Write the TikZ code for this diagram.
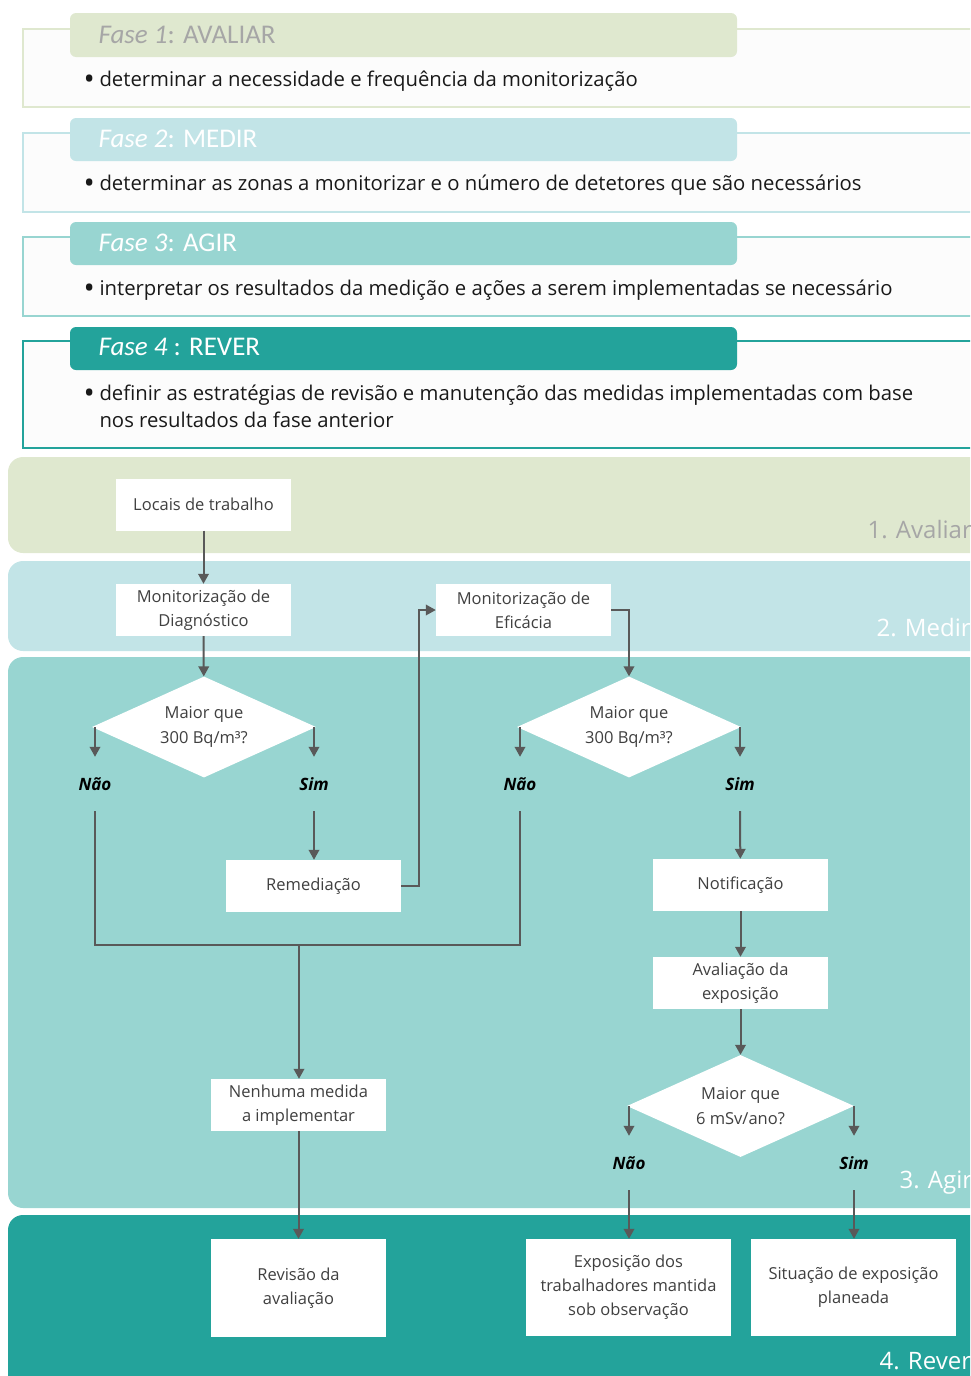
\documentclass[tikz,border=0pt]{standalone}
\usepackage{fontspec}
\setmainfont{Open Sans}
\newfontfamily\hdfont{Carlito}
\usetikzlibrary{shapes.geometric,arrows.meta,positioning}
\definecolor{avaliar}{HTML}{DFE8CF}
\definecolor{medir}{HTML}{C2E4E7}
\definecolor{agir}{HTML}{98D5D1}
\definecolor{rever}{HTML}{23A39B}
\definecolor{seta}{HTML}{595959}
\definecolor{texto}{HTML}{404040}
\definecolor{cinza}{HTML}{A6A6A6}
\newcommand{\bul}[1]{\makebox[16pt][l]{\raisebox{-3pt}{\fontsize{30}{30}\selectfont•}}#1}
\tikzset{x=1pt, y=-1pt,
  box/.style={rectangle, fill=white, minimum width=175pt, minimum height=52pt, inner sep=0pt, align=center, text=texto, font=\fontsize{16.5}{24}\selectfont},
  decision/.style={diamond, fill=white, minimum width=224pt, minimum height=101pt, inner sep=0pt, shape aspect=2.2, align=center, text=texto, font=\fontsize{16.5}{25}\selectfont},
  answer/.style={minimum height=54pt, inner sep=0pt, font=\fontsize{17}{20}\selectfont\bfseries\itshape},
  arr/.style={line width=2pt, draw=seta, -{Triangle[length=10pt,width=10.5pt]}},
  line/.style={line width=2pt, draw=seta},
  fase/.style={draw=#1, line width=1.5pt, fill=black!1},
  cabec/.style={fill=#1, rounded corners=6pt},
  titulo/.style={anchor=west, text=#1, font=\hdfont\fontsize{27}{30}\selectfont},
  item/.style={anchor=west, align=left, text=black!90, font=\fontsize{20.3}{27}\selectfont},
  lane/.style={fill=#1, rounded corners=15pt},
  lanelabel/.style={anchor=west, text=#1, font=\fontsize{24}{28}\selectfont}}

\begin{document}
\begin{tikzpicture}
  \useasboundingbox (0,0) rectangle (970,1376);
  \clip (0,0) rectangle (970,1376);

  % fases
  \draw[fase=avaliar] (23,29) rectangle (995,107);
  \fill[cabec=avaliar] (70,13) rectangle (737,57);
  \node[titulo=cinza] (f1) at (95,35) {\textit{Fase 1}: AVALIAR};
  \node[item] (t1) at (80,81) {\bul{determinar a necessidade e frequência da monitorização}};

  \draw[fase=medir] (23,133) rectangle (995,212);
  \fill[cabec=medir] (70,118) rectangle (737,161);
  \node[titulo=white] (f2) at (95,139) {\textit{Fase 2}: MEDIR};
  \node[item] (t2) at (80,185) {\bul{determinar as zonas a monitorizar e o número de detetores que são necessários}};

  \draw[fase=agir] (23,237) rectangle (995,316);
  \fill[cabec=agir] (70,222) rectangle (737,265);
  \node[titulo=white] (f3) at (95,243) {\textit{Fase 3}: AGIR};
  \node[item] (t3) at (80,290) {\bul{interpretar os resultados da medição e ações a serem implementadas se necessário}};

  \draw[fase=rever] (23,341) rectangle (995,448);
  \fill[cabec=rever] (70,327) rectangle (737,370);
  \node[titulo=white] (f4) at (95,347) {\textit{Fase 4} : REVER};
  \node[item] (t4) at (80,406.5) {\bul{definir as estratégias de revisão e manutenção das medidas implementadas com base}\\\hspace*{16pt}nos resultados da fase anterior};

  % faixas
  \fill[lane=avaliar] (8,457) rectangle (1000,553);
  \fill[lane=medir] (8,561) rectangle (1000,651);
  \fill[lane=agir] (8,657) rectangle (1000,1208);
  \fill[lane=rever] (8,1215) rectangle (1000,1400);
  \node[lanelabel=cinza] (l1) at (864,530) {1. Avaliar};
  \node[lanelabel=white] (l2) at (873,628) {2. Medir};
  \node[lanelabel=white] (l3) at (896,1183) {3. Agir};
  \node[lanelabel=white] (l4) at (876,1361) {4. Rever};

  % caixas
  \node[box] (locais) at (203.5,504.5) {Locais de trabalho};
  \node[box] (mdiag) at (203.5,610) {Monitorização de\\Diagnóstico};
  \node[box] (mefic) at (523.5,610) {Monitorização de\\Eficácia};
  \node[decision] (d1) at (204,727) {Maior que\\300 Bq/m³?};
  \node[decision] (d2) at (629,727) {Maior que\\300 Bq/m³?};
  \node[answer] (nao1) at (95,784) {Não};
  \node[answer] (sim1) at (314,784) {Sim};
  \node[answer] (nao2) at (520,784) {Não};
  \node[answer] (sim2) at (740,784) {Sim};
  \node[box] (remed) at (313.5,886) {Remediação};
  \node[box] (notif) at (740.5,885) {Notificação};
  \node[box] (avexp) at (740.5,983) {Avaliação da\\exposição};
  \node[decision, minimum width=227pt, minimum height=102pt] (d3) at (740.5,1106) {Maior que\\6 mSv/ano?};
  \node[answer] (nao3) at (629,1163) {Não};
  \node[answer] (sim3) at (854,1163) {Sim};
  \node[box] (nenhuma) at (298.5,1105) {Nenhuma medida\\a implementar};
  \node[box, minimum height=98pt] (revisao) at (298.5,1288) {Revisão da\\avaliação};
  \node[box, minimum width=205pt, minimum height=97pt] (expos) at (628.5,1287.5) {Exposição dos\\trabalhadores mantida\\sob observação};
  \node[box, minimum width=205pt, minimum height=97pt] (situa) at (853.5,1287.5) {Situação de exposição\\planeada};
  \coordinate (juncao) at (299,945);

  % ligacoes
  \draw[arr] (locais) -- (mdiag);
  \draw[arr] (mdiag) -- (d1);
  \draw[arr] (nao1.north |- d1.west) -- (nao1.north);
  \draw[arr] (sim1.north |- d1.east) -- (sim1.north);
  \draw[arr] (sim1.south) -- (sim1.south |- remed.north);
  \draw[arr] (remed.east) -- ++(18,0) |- (mefic.west);
  \draw[arr] (mefic.east) -| (d2.north);
  \draw[arr] (nao2.north |- d2.west) -- (nao2.north);
  \draw[arr] (sim2.north |- d2.east) -- (sim2.north);
  \draw[line] (nao1.south) |- (juncao) -| (nao2.south);
  \draw[arr] (juncao) -- (juncao |- nenhuma.north);
  \draw[arr] (nenhuma) -- (revisao);
  \draw[arr] (sim2.south) -- (notif);
  \draw[arr] (notif) -- (avexp);
  \draw[arr] (avexp) -- (d3);
  \draw[arr] (nao3.north |- d3.west) -- (nao3.north);
  \draw[arr] (sim3.north |- d3.east) -- (sim3.north);
  \draw[arr] (nao3.south) -- (nao3.south |- expos.north);
  \draw[arr] (sim3.south) -- (sim3.south |- situa.north);
\end{tikzpicture}
\end{document}
